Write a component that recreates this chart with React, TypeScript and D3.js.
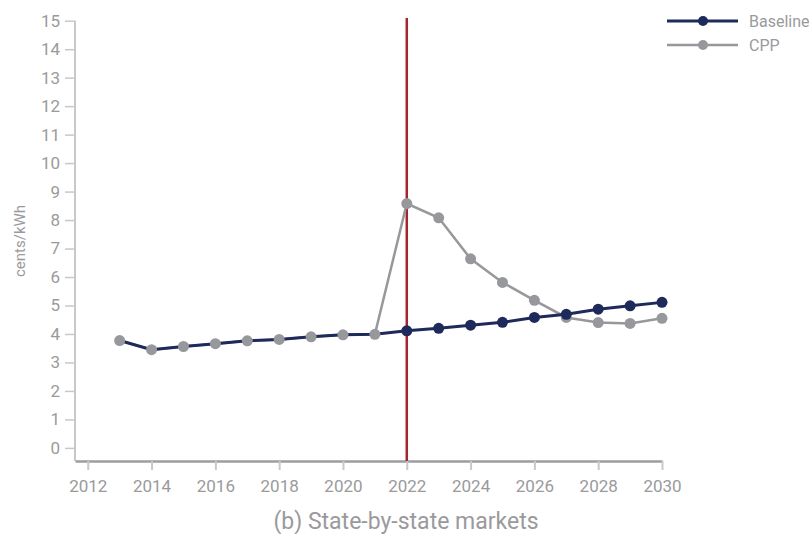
import { useRef, useEffect } from 'react'
import * as d3 from 'd3'

const years = [2013, 2014, 2015, 2016, 2017, 2018, 2019, 2020, 2021, 2022, 2023, 2024, 2025, 2026, 2027, 2028, 2029, 2030]
const baseline = [3.77, 3.45, 3.56, 3.66, 3.76, 3.81, 3.9, 3.97, 3.99, 4.11, 4.2, 4.31, 4.41, 4.58, 4.69, 4.87, 4.99, 5.11]
const cpp = [3.77, 3.45, 3.56, 3.66, 3.76, 3.81, 3.9, 3.97, 3.99, 8.58, 8.08, 6.64, 5.81, 5.18, 4.58, 4.4, 4.37, 4.55]
const xTicks = [2012, 2014, 2016, 2018, 2020, 2022, 2024, 2026, 2028, 2030]
const yTicks = d3.range(0, 16)
const markerYear = 2022
const seriesNames = ['Baseline', 'CPP']

const NAVY = '#1d2a5a'
const GRAY = '#97989b'
const RED = '#a3262f'
const LABEL = '#9a9a9c'
const FONT = '"Roboto", sans-serif'

const W = 809
const H = 534

export default function App() {
  const svgRef = useRef<SVGSVGElement>(null)

  useEffect(() => {
    if (!svgRef.current) return
    const svg = d3.select(svgRef.current)
    svg.selectAll('*').remove()

    const x = d3.scaleLinear().domain([2011.6, 2030]).range([75, 662])
    const y = d3.scaleLinear().domain([-0.46, 15]).range([461, 20.7])

    // y axis
    const yAxis = svg.append('g')
      .attr('transform', `translate(${x(2011.6)},0)`)
      .call(d3.axisLeft(y).tickValues(yTicks).tickSize(10).tickPadding(5).tickSizeOuter(0))
    yAxis.select('.domain').attr('stroke', '#c8c8c8').attr('stroke-width', 2)
      .attr('d', `M0,${y(15)}V${y(-0.46)}`)
    yAxis.selectAll('.tick line').attr('stroke', '#c8c8c8').attr('stroke-width', 1.5)
    yAxis.selectAll('.tick text').attr('fill', LABEL).attr('font-size', 17).attr('font-family', FONT)

    // x axis
    const xAxis = svg.append('g')
      .attr('transform', `translate(0,${y(-0.46)})`)
      .call(d3.axisBottom(x).tickValues(xTicks).tickFormat(d3.format('d')).tickSize(9).tickPadding(10).tickSizeOuter(0))
    xAxis.select('.domain').attr('stroke', '#9d9d9f').attr('stroke-width', 2.5)
    xAxis.selectAll('.tick line').attr('stroke', '#c8c8c8').attr('stroke-width', 2)
    xAxis.selectAll('.tick text').attr('fill', LABEL).attr('font-size', 17).attr('font-family', FONT)

    // axis title
    svg.append('text')
      .attr('transform', 'translate(25,241) rotate(-90)')
      .attr('text-anchor', 'middle')
      .attr('fill', LABEL)
      .attr('font-size', 15)
      .attr('font-family', FONT)
      .text('cents/kWh')

    svg.append('text')
      .attr('x', 406)
      .attr('y', 529)
      .attr('text-anchor', 'middle')
      .attr('fill', LABEL)
      .attr('font-size', 23)
      .attr('font-family', FONT)
      .text('(b) State-by-state markets')

    // marker line
    svg.append('line')
      .attr('x1', x(markerYear)).attr('x2', x(markerYear))
      .attr('y1', 18).attr('y2', y(-0.46))
      .attr('stroke', RED).attr('stroke-width', 2.5)

    const base = years.map((yr, i) => ({ yr, v: baseline[i] }))
    const alt = years.map((yr, i) => ({ yr, v: cpp[i] }))
    const line = d3.line<{ yr: number; v: number }>().x(d => x(d.yr)).y(d => y(d.v))

    svg.append('path').datum(alt).attr('fill', 'none').attr('stroke', GRAY).attr('stroke-width', 2.5).attr('d', line)
    svg.append('path').datum(base).attr('fill', 'none').attr('stroke', NAVY).attr('stroke-width', 3).attr('d', line)

    svg.append('g').selectAll('circle').data(alt).join('circle')
      .attr('cx', d => x(d.yr)).attr('cy', d => y(d.v)).attr('r', 5.5).attr('fill', GRAY)
    svg.append('g').selectAll('circle').data(base.filter((d, i) => d.v !== cpp[i])).join('circle')
      .attr('cx', d => x(d.yr)).attr('cy', d => y(d.v)).attr('r', 5.5).attr('fill', NAVY)

    // legend
    const legend = svg.append('g').attr('transform', 'translate(667,21)')
    seriesNames.forEach((name, i) => {
      const c = i === 0 ? NAVY : GRAY
      const g = legend.append('g').attr('transform', `translate(0,${i * 24})`)
      g.append('line').attr('x1', 0).attr('x2', 71).attr('stroke', c).attr('stroke-width', i === 0 ? 3 : 2.5)
      g.append('circle').attr('cx', 36).attr('r', 5).attr('fill', c)
      g.append('text').attr('x', 82).attr('dy', '0.35em')
        .attr('fill', LABEL).attr('font-size', 16).attr('font-family', FONT).text(name)
    })
  }, [])

  return (
    <div style={{ position: 'absolute', left: 0, top: 0 }}>
      <svg ref={svgRef} width={W} height={H} style={{ display: 'block', background: '#fff' }} />
    </div>
  )
}
